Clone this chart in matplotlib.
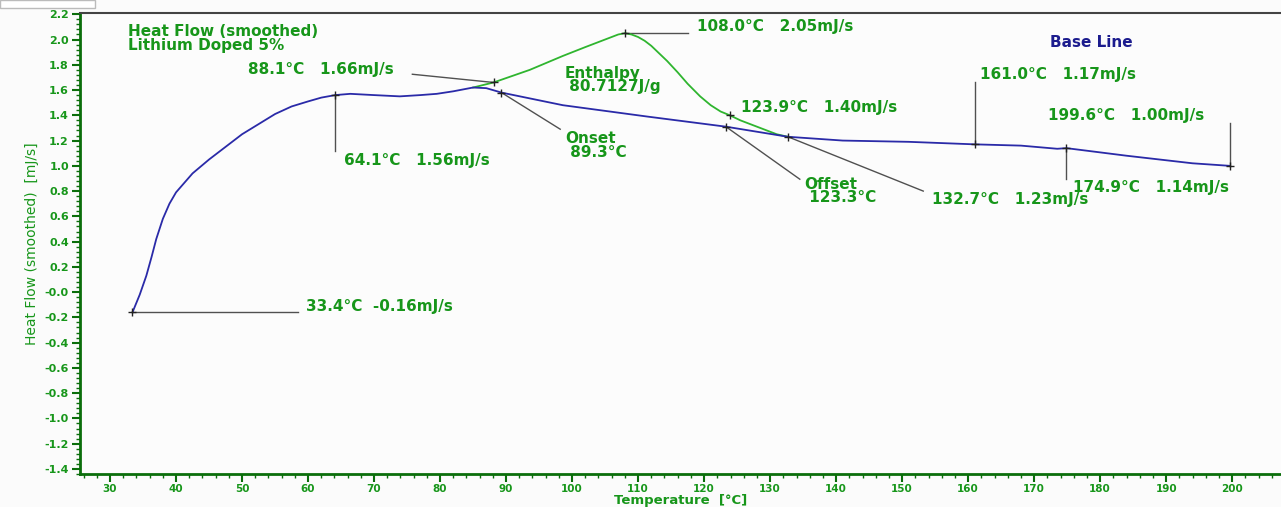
import matplotlib
matplotlib.use("Agg")
import matplotlib.pyplot as plt
from matplotlib.patches import Rectangle
from matplotlib.ticker import FixedLocator, FixedFormatter, MultipleLocator

# Heat flow curve (blue): warm-up, plateau and base line after the peak
blue_t = [33.4, 34.5, 35.5, 36.3, 37.0, 38.0, 39.0, 40.0, 42.5, 45.0, 47.5,
          50.0, 52.5, 55.0, 57.5, 60.0, 62.0, 64.1, 66.4, 70.0, 73.9, 77.0,
          79.5, 82.0, 85.0, 87.0, 89.3, 98.6, 111.4, 123.3, 132.7, 141.0,
          151.0, 161.0, 168.0, 173.5, 174.9, 184.0, 194.0, 199.6]
blue_hf = [-0.16, -0.02, 0.13, 0.28, 0.42, 0.58, 0.70, 0.79, 0.94, 1.05, 1.15,
           1.25, 1.33, 1.41, 1.47, 1.51, 1.54, 1.56, 1.57, 1.56, 1.55, 1.56,
           1.57, 1.59, 1.62, 1.615, 1.58, 1.48, 1.39, 1.31, 1.23, 1.20,
           1.19, 1.17, 1.16, 1.135, 1.14, 1.08, 1.02, 1.00]

# Smoothed heat flow over the transition (green)
green_t = [85.0, 88.1, 93.6, 98.6, 102.0, 104.0, 106.0, 107.0, 108.0, 109.0,
           110.0, 111.0, 112.0, 113.0, 114.4, 116.0, 117.5, 119.4, 121.0,
           122.5, 123.9, 125.5, 127.0, 129.5, 131.0, 132.7]
green_hf = [1.62, 1.66, 1.76, 1.87, 1.94, 1.98, 2.02, 2.04, 2.05, 2.04,
            2.02, 1.99, 1.95, 1.90, 1.83, 1.74, 1.65, 1.55, 1.48,
            1.43, 1.40, 1.36, 1.33, 1.28, 1.25, 1.23]

# Evaluated points: (temperature, heat flow)
mark_t = [33.4, 64.1, 88.1, 89.3, 108.0, 123.9, 123.3, 132.7, 161.0, 174.9, 199.6]
mark_hf = [-0.16, 1.56, 1.66, 1.58, 2.05, 1.40, 1.31, 1.23, 1.17, 1.14, 1.00]

y_ticks = [2.2, 2.0, 1.8, 1.6, 1.4, 1.2, 1.0, 0.8, 0.6, 0.4, 0.2, 0.0,
           -0.2, -0.4, -0.6, -0.8, -1.0, -1.2, -1.4]
y_tick_labels = ["2.2", "2.0", "1.8", "1.6", "1.4", "1.2", "1.0", "0.8", "0.6",
                 "0.4", "0.2", "-0.0", "-0.2", "-0.4", "-0.6", "-0.8", "-1.0",
                 "-1.2", "-1.4"]
x_ticks = [30, 40, 50, 60, 70, 80, 90, 100, 110, 120, 130, 140, 150, 160,
           170, 180, 190, 200]

GREEN_TXT = "#17961a"
GREEN_LINE = "#2fb52f"
BLUE_LINE = "#2a2aa8"
NAVY = "#1c1c8e"
LEADER = "#505050"

fig = plt.figure(figsize=(12.81, 5.07), dpi=100, facecolor="#fbfbfb")
ax = fig.add_axes([80 / 1281, 33 / 507, 1201 / 1281, 461 / 507])
ax.set_facecolor("#fcfcfc")

ax.plot(blue_t, blue_hf, color=BLUE_LINE, lw=1.3, zorder=3)
ax.plot(green_t, green_hf, color=GREEN_LINE, lw=1.3, zorder=2)
ax.plot(mark_t, mark_hf, ls="none", marker="+", ms=6, mew=1.0,
        color="#222222", zorder=4)

ax.set_xlim(25.45, 207.4)
ax.set_ylim(-1.44, 2.21)

# leaders: (x0, y0, x1, y1)
leaders = [
    (33.4, -0.16, 58.5, -0.16),
    (64.1, 1.56, 64.1, 1.115),
    (88.1, 1.66, 75.8, 1.725),
    (89.3, 1.58, 98.2, 1.29),
    (108.0, 2.05, 117.6, 2.05),
    (123.3, 1.31, 134.5, 0.894),
    (132.7, 1.23, 153.2, 0.80),
    (161.0, 1.17, 161.0, 1.66),
    (174.9, 1.14, 174.9, 0.894),
    (199.6, 1.00, 199.6, 1.337),
]
for x0, y0, x1, y1 in leaders:
    ax.plot([x0, x1], [y0, y1], color=LEADER, lw=1.0, zorder=1)

labels = [
    (59.7, -0.11, "33.4°C  -0.16mJ/s"),
    (65.5, 1.044, "64.1°C   1.56mJ/s"),
    (50.9, 1.764, "88.1°C   1.66mJ/s"),
    (98.9, 1.16, "Onset\n 89.3°C"),
    (98.8, 1.68, "Enthalpy\n 80.7127J/g"),
    (118.9, 2.10, "108.0°C   2.05mJ/s"),
    (125.6, 1.46, "123.9°C   1.40mJ/s"),
    (135.2, 0.80, "Offset\n 123.3°C"),
    (154.5, 0.736, "132.7°C   1.23mJ/s"),
    (161.8, 1.725, "161.0°C   1.17mJ/s"),
    (175.9, 0.83, "174.9°C   1.14mJ/s"),
    (172.1, 1.40, "199.6°C   1.00mJ/s"),
]
for x, y, s in labels:
    ax.text(x, y, s, color=GREEN_TXT, fontsize=11, fontweight="bold",
            va="center", ha="left", linespacing=0.9, zorder=5)

ax.text(32.7, 2.01, "Heat Flow (smoothed)\nLithium Doped 5%", color=GREEN_TXT,
        fontsize=11, fontweight="bold", va="center", ha="left",
        linespacing=0.9)
ax.text(172.4, 1.98, "Base Line", color=NAVY, fontsize=11,
        fontweight="bold", va="center", ha="left")

# axes frame and ticks
for side in ("left", "bottom"):
    ax.spines[side].set_color("#0b6e0b")
    ax.spines[side].set_linewidth(2)
ax.spines["top"].set_color("#444444")
ax.spines["top"].set_linewidth(1.5)
ax.spines["right"].set_visible(False)

ax.yaxis.set_major_locator(FixedLocator(y_ticks))
ax.yaxis.set_major_formatter(FixedFormatter(y_tick_labels))
ax.yaxis.set_minor_locator(MultipleLocator(0.04))
ax.xaxis.set_major_locator(FixedLocator(x_ticks))
ax.xaxis.set_minor_locator(MultipleLocator(2))

ax.tick_params(axis="both", which="major", direction="out", length=6,
               width=1.5, color="#0b6e0b", labelcolor=GREEN_TXT,
               labelsize=8)
ax.tick_params(axis="both", which="minor", direction="out", length=3,
               width=1, color="#0b6e0b")
ax.tick_params(axis="y", pad=2)
ax.tick_params(axis="x", pad=1, labelsize=7.5)
for lab in ax.get_xticklabels() + ax.get_yticklabels():
    lab.set_fontweight("bold")

ax.set_ylabel("Heat Flow (smoothed)  [mJ/s]", color=GREEN_TXT, fontsize=10,
              labelpad=4)
ax.set_xlabel("Temperature  [°C]", color=GREEN_TXT, fontsize=9.5,
              fontweight="bold", labelpad=0)

# small window tab in the corner
fig.patches.append(Rectangle((0, 1 - 8 / 507), 95 / 1281, 8 / 507,
                             transform=fig.transFigure, facecolor="white",
                             edgecolor="#bbbbbb", lw=1))

fig.savefig("out.png", dpi=100, facecolor=fig.get_facecolor())
